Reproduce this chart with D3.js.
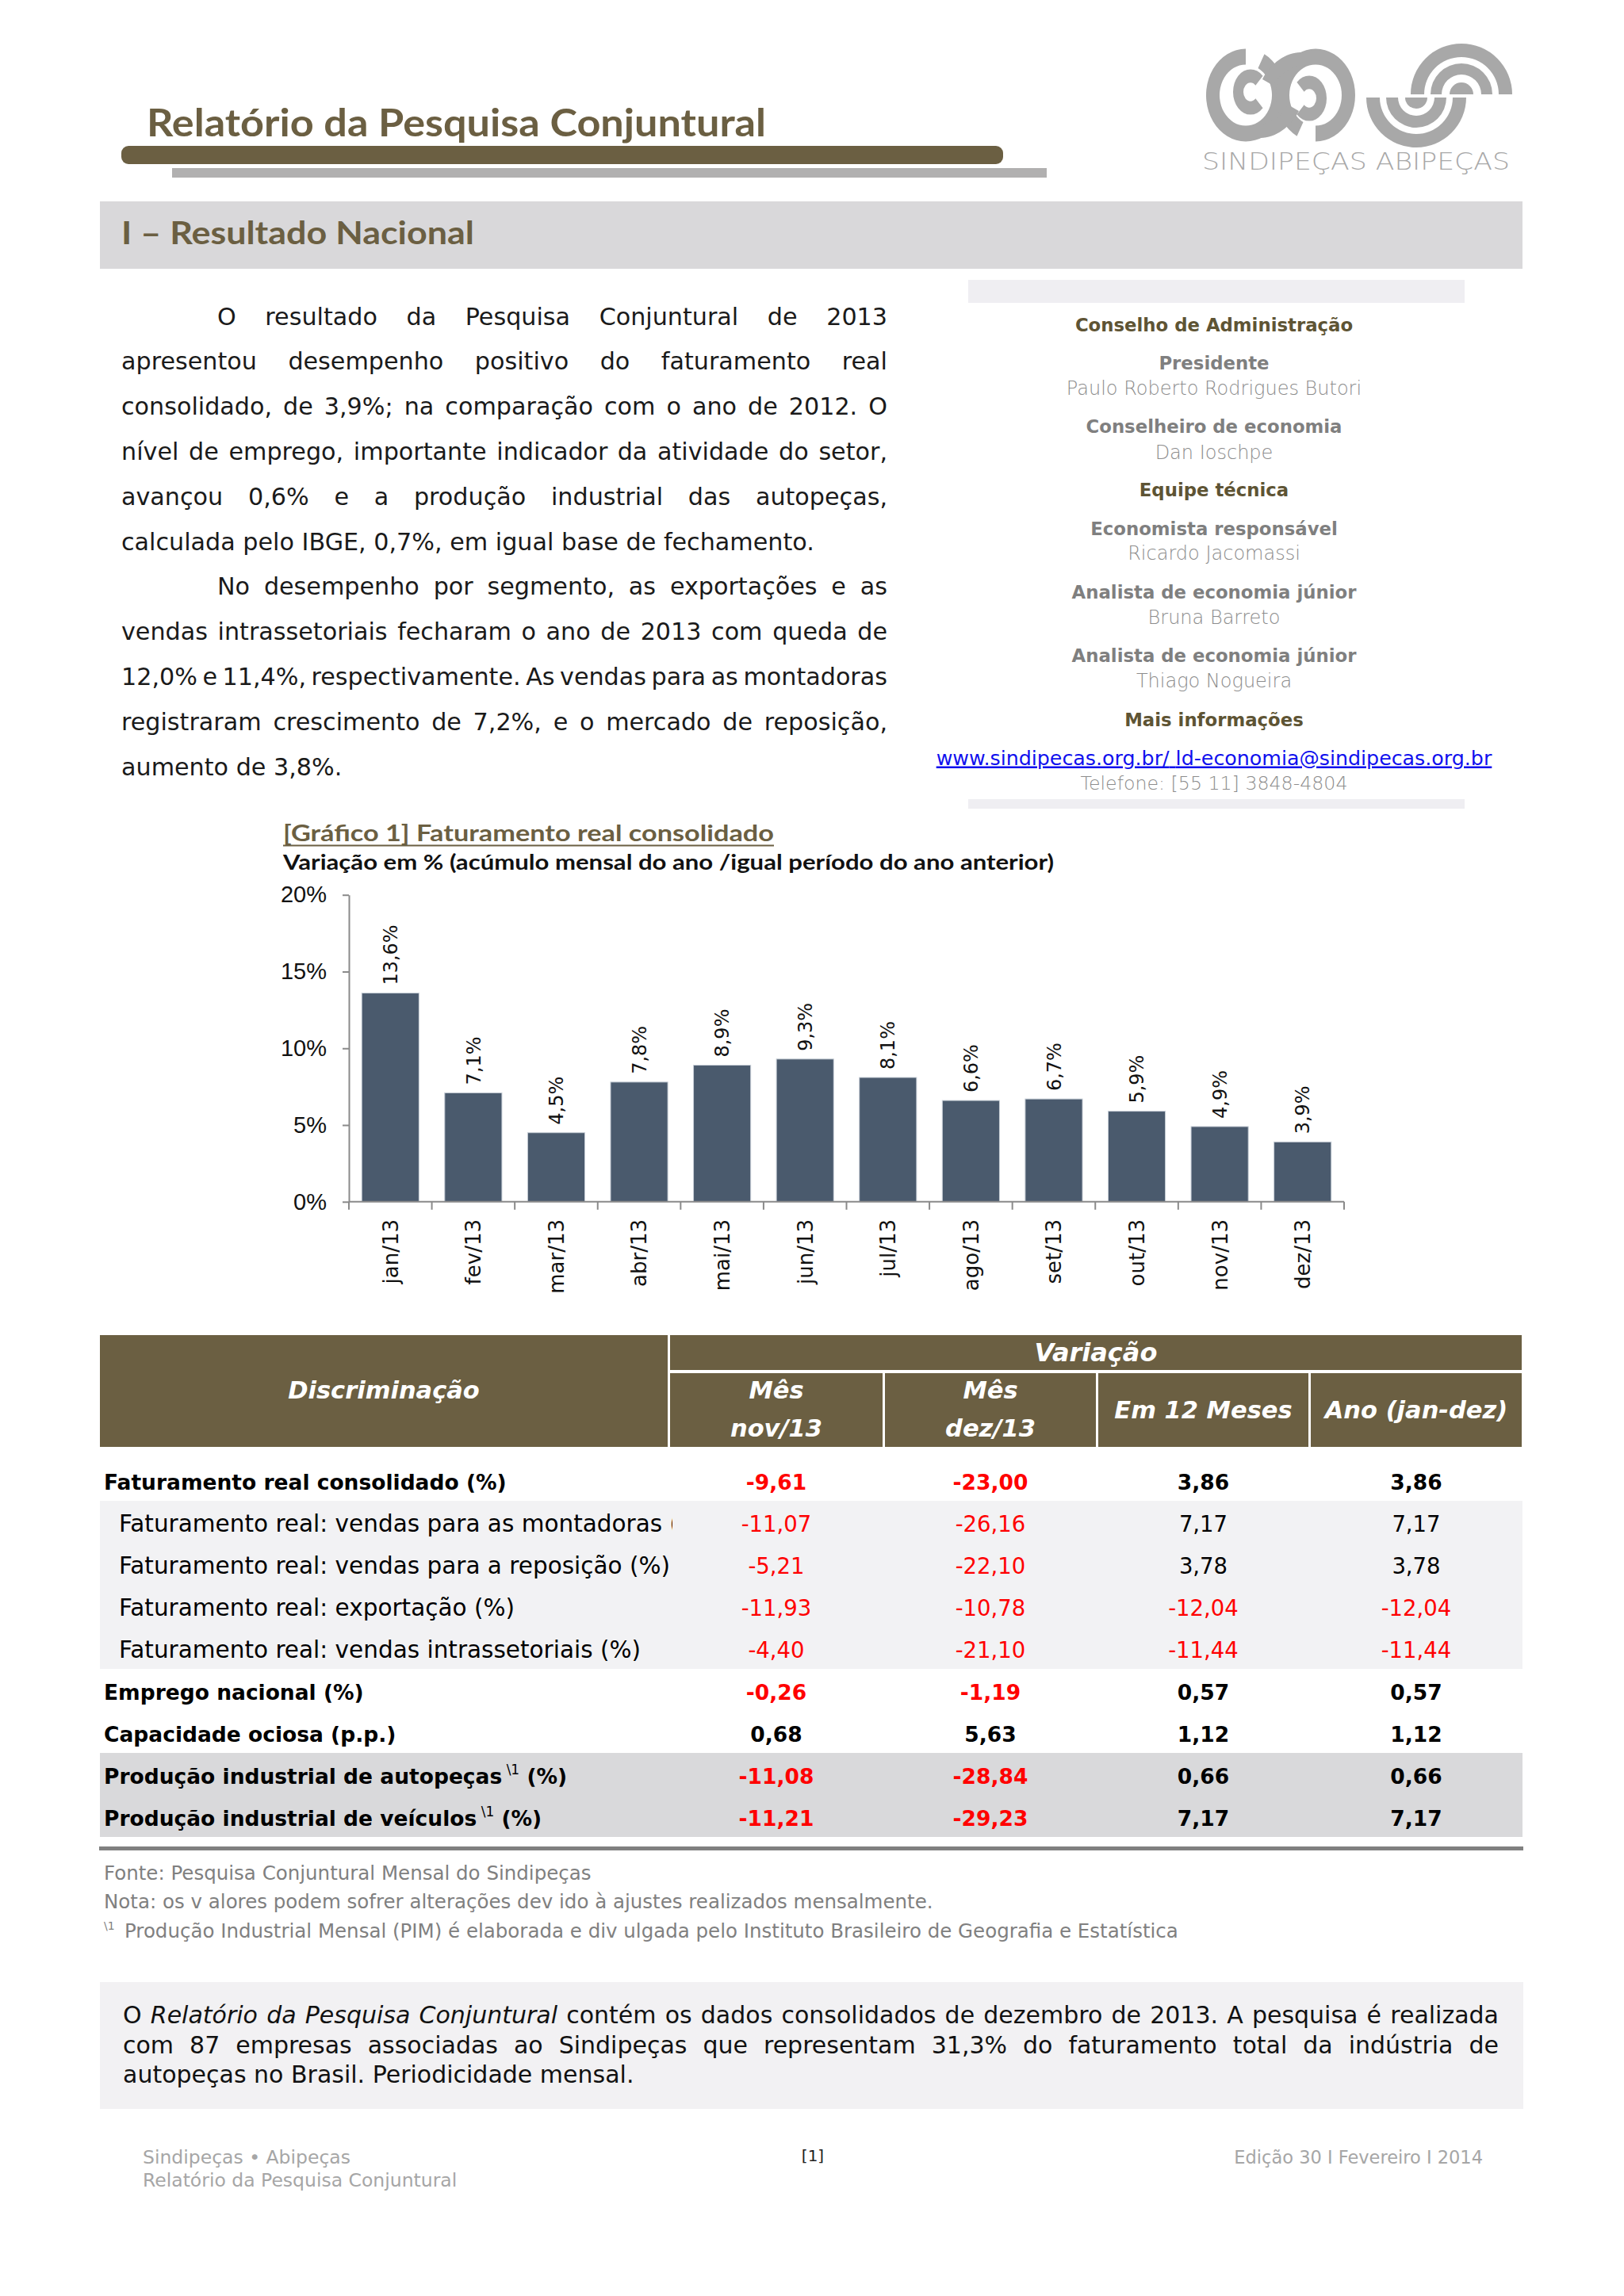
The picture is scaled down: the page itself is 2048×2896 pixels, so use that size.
<!DOCTYPE html>
<html><head><meta charset="utf-8">
<script src="https://cdn.jsdelivr.net/npm/d3@7"></script>
<style>
html,body{margin:0;padding:0;background:#fff;}
svg{display:block;}
</style></head><body>
<svg id="page" width="2048" height="2896"></svg>
<script>
// ---------------- DATA ----------------
const headerTitle = "Relatório da Pesquisa Conjuntural";
const sectionTitle = "I – Resultado Nacional";
const logoWords = "SINDIPEÇAS ABIPEÇAS";

const paragraph1Lines = [
  "O resultado da Pesquisa Conjuntural de 2013",
  "apresentou desempenho positivo do faturamento real",
  "consolidado, de 3,9%; na comparação com o ano de 2012. O",
  "nível de emprego, importante indicador da atividade do setor,",
  "avançou 0,6% e a produção industrial das autopeças,",
  "calculada pelo IBGE, 0,7%, em igual base de fechamento."
];
const paragraph2Lines = [
  "No desempenho por segmento, as exportações e as",
  "vendas intrassetoriais fecharam o ano de 2013 com queda de",
  "12,0% e 11,4%, respectivamente. As vendas para as montadoras",
  "registraram crescimento de 7,2%, e o mercado de reposição,",
  "aumento de 3,8%."
];

const infoItems = [
  {kind: "head", text: "Conselho de Administração"},
  {kind: "role", text: "Presidente"},
  {kind: "name", text: "Paulo Roberto Rodrigues Butori"},
  {kind: "role", text: "Conselheiro de economia"},
  {kind: "name", text: "Dan Ioschpe"},
  {kind: "head", text: "Equipe técnica"},
  {kind: "role", text: "Economista responsável"},
  {kind: "name", text: "Ricardo Jacomassi"},
  {kind: "role", text: "Analista de economia júnior"},
  {kind: "name", text: "Bruna Barreto"},
  {kind: "role", text: "Analista de economia júnior"},
  {kind: "name", text: "Thiago Nogueira"},
  {kind: "head", text: "Mais informações"}
];
const infoLinks = ["www.sindipecas.org.br/", "ld-economia@sindipecas.org.br"];
const infoPhone = "Telefone: [55 11] 3848-4804";

const chartTitle = "[Gráfico 1] Faturamento real consolidado";
const chartSubtitle = "Variação em % (acúmulo mensal do ano /igual período do ano anterior)";
const months = ["jan/13","fev/13","mar/13","abr/13","mai/13","jun/13","jul/13","ago/13","set/13","out/13","nov/13","dez/13"];
const faturamento = [13.6, 7.1, 4.5, 7.8, 8.9, 9.3, 8.1, 6.6, 6.7, 5.9, 4.9, 3.9];
const yTickValues = [0, 5, 10, 15, 20];

const tableHeadMain = "Discriminação";
const tableHeadGroup = "Variação";
const tableColumns = [["Mês", "nov/13"], ["Mês", "dez/13"], ["Em 12 Meses"], ["Ano (jan-dez)"]];
const rowLabels = [
  "Faturamento real consolidado (%)",
  "Faturamento real: vendas para as montadoras (%)",
  "Faturamento real: vendas para a reposição (%)",
  "Faturamento real: exportação (%)",
  "Faturamento real: vendas intrassetoriais (%)",
  "Emprego nacional (%)",
  "Capacidade ociosa (p.p.)",
  "Produção industrial de autopeças",
  "Produção industrial de veículos"
];
const rowNoteMark = ["", "", "", "", "", "", "", "\\1", "\\1"];
const rowUnitAfterNote = ["", "", "", "", "", "", "", " (%)", " (%)"];
const rowGroup = ["main", "sub", "sub", "sub", "sub", "main", "main", "ibge", "ibge"];
const valNov13 = [-9.61, -11.07, -5.21, -11.93, -4.40, -0.26, 0.68, -11.08, -11.21];
const valDez13 = [-23.00, -26.16, -22.10, -10.78, -21.10, -1.19, 5.63, -28.84, -29.23];
const val12Meses = [3.86, 7.17, 3.78, -12.04, -11.44, 0.57, 1.12, 0.66, 7.17];
const valAno = [3.86, 7.17, 3.78, -12.04, -11.44, 0.57, 1.12, 0.66, 7.17];

const noteLines = [
  "Fonte: Pesquisa Conjuntural Mensal do Sindipeças",
  "Nota: os v alores podem sofrer alterações dev ido à ajustes realizados mensalmente.",
  "Produção Industrial Mensal (PIM) é elaborada e div ulgada pelo Instituto Brasileiro de Geografia e Estatística"
];
const noteMarks = ["", "", "\\1"];

const boxLines = [
  "O _Relatório da Pesquisa Conjuntural_ contém os dados consolidados de dezembro de 2013. A pesquisa é realizada",
  "com 87 empresas associadas ao Sindipeças que representam 31,3% do faturamento total da indústria de",
  "autopeças no Brasil. Periodicidade mensal."
];
const footerLeft = ["Sindipeças • Abipeças", "Relatório da Pesquisa Conjuntural"];
const footerPage = "[1]";
const footerRight = "Edição 30 I Fevereiro I 2014";

// ---------------- DRAW ----------------
const svg = d3.select("#page");
const OLIVE = "#6b5f42";
const F = "'DejaVu Sans', 'Liberation Sans', sans-serif";
const FL = "Lato, 'Open Sans', sans-serif";

svg.append("rect").attr("width", 2048).attr("height", 2896).attr("fill", "#ffffff");

// Header
svg.append("text").attr("x", 185).attr("y", 172)
  .attr("font-family", FL).attr("font-weight", 700).attr("font-size", 47)
  .attr("fill", OLIVE).attr("textLength", 781).attr("lengthAdjust", "spacingAndGlyphs")
  .text(headerTitle);
svg.append("rect").attr("x", 153).attr("y", 184).attr("width", 1112).attr("height", 23)
  .attr("rx", 9).attr("fill", OLIVE);
svg.append("rect").attr("x", 217).attr("y", 212).attr("width", 1103).attr("height", 12)
  .attr("fill", "#b1b0b0");

// Logo
const logo = svg.append("g");
const LG = "#a8a8a8";
const arcGen = d3.arc();
const deg = a => a * Math.PI / 180;
function ring(cx, cy, r0, r1, a0, a1, sy) {
  logo.append("path").attr("transform", `translate(${cx},${cy}) scale(1,${sy})`)
    .attr("d", arcGen({innerRadius: r0, outerRadius: r1, startAngle: deg(a0), endAngle: deg(a1)}))
    .attr("fill", LG);
}
ring(1571, 120, 33, 50, 28, 360, 1.17);
ring(1659, 120, 33, 50, 208, 540, 1.17);
ring(1577, 116, 9, 22, 135, 405, 1.3);
ring(1651, 124, 9, 22, 315, 585, 1.3);
// S band joining the rings
logo.append("path")
  .attr("d", "M1592,100 C1602,80 1622,66 1640,66 L1640,83 C1628,84 1612,94 1606,108 Z")
  .attr("fill", LG);
logo.append("path")
  .attr("d", "M1638,140 C1628,160 1608,174 1590,174 L1590,157 C1602,156 1618,146 1624,132 Z")
  .attr("fill", LG);
const upper = [-90, 90], lower = [90, 270];
[[47, 64], [25, 39], [0, 15]].forEach(([ri, ro]) => ring(1843, 119, ri, ro, upper[0], upper[1], 1));
[[46, 63], [23, 38], [0, 14]].forEach(([ri, ro]) => ring(1786, 123, ri, ro, lower[0], lower[1], 1));
logo.append("text").attr("x", 1516).attr("y", 214)
  .attr("font-family", F).attr("font-weight", 300).attr("font-size", 31).attr("fill", LG)
  .attr("textLength", 388).attr("lengthAdjust", "spacingAndGlyphs").text(logoWords);

// Section band
svg.append("rect").attr("x", 126).attr("y", 254).attr("width", 1794).attr("height", 85).attr("fill", "#d9d8da");
svg.append("text").attr("x", 153).attr("y", 308)
  .attr("font-family", FL).attr("font-weight", 700).attr("font-size", 41).attr("fill", OLIVE)
  .attr("textLength", 445).attr("lengthAdjust", "spacingAndGlyphs").text(sectionTitle);

// Justified line helper
function layoutLine(parent, text, x0, x1, y, fs, justify, fill, family) {
  let ital = false;
  const words = text.split(" ").filter(s => s.length).map(tk => {
    let w = tk;
    if (w.startsWith("_")) { w = w.slice(1); ital = true; }
    const it = ital;
    if (w.endsWith("_")) { w = w.slice(0, -1); ital = false; }
    return {w, it};
  });
  const t = parent.append("text").attr("y", y).attr("font-family", family || F)
    .attr("font-size", fs).attr("fill", fill);
  const spans = words.map(d => t.append("tspan").attr("font-style", d.it ? "italic" : "normal").text(d.w));
  const widths = spans.map(s => s.node().getComputedTextLength());
  const total = d3.sum(widths);
  const spaceW = fs * 0.318;
  let gap = spaceW, scale = 1;
  if (justify && words.length > 1) {
    gap = (x1 - x0 - total) / (words.length - 1);
    if (gap < fs * 0.2) {
      gap = fs * 0.2;
      scale = (x1 - x0 - gap * (words.length - 1)) / total;
    }
  }
  let x = x0;
  spans.forEach((s, i) => {
    s.attr("x", x);
    if (scale < 1) s.attr("textLength", widths[i] * scale).attr("lengthAdjust", "spacingAndGlyphs");
    x += widths[i] * scale + gap;
  });
}

// Paragraphs
const para = svg.append("g");
const PX0 = 153, PX1 = 1119, PIND = 274, PFS = 30.2, PLH = 56.8;
const allPara = [];
paragraph1Lines.forEach((l, i) => allPara.push({l, first: i === 0, last: i === paragraph1Lines.length - 1}));
paragraph2Lines.forEach((l, i) => allPara.push({l, first: i === 0, last: i === paragraph2Lines.length - 1}));
allPara.forEach((d, i) => {
  layoutLine(para, d.l, d.first ? PIND : PX0, PX1, 409.5 + i * PLH, PFS, !d.last, "#1a1a1a");
});

// Right info box
svg.append("rect").attr("x", 1221).attr("y", 353).attr("width", 626).attr("height", 29).attr("fill", "#efeef2");
svg.append("rect").attr("x", 1221).attr("y", 1008).attr("width", 626).attr("height", 12).attr("fill", "#efeef2");
const infoY = [418, 466, 498, 546, 578.5, 626, 675, 706, 755, 787, 835, 867, 916];
const info = svg.append("g").attr("font-family", F).attr("text-anchor", "middle");
infoItems.forEach((d, i) => {
  const t = info.append("text").attr("x", 1531).attr("y", infoY[i]).text(d.text);
  if (d.kind === "head") t.attr("font-weight", 700).attr("font-size", 22.8).attr("fill", "#5e5434");
  else if (d.kind === "role") t.attr("font-weight", 700).attr("font-size", 22.8).attr("fill", "#7f7f7f");
  else t.attr("font-weight", 300).attr("font-size", 24).attr("fill", "#8c8c8c");
});
const linkT = info.append("text").attr("x", 1531).attr("y", 964.5).attr("font-size", 25.3)
  .attr("fill", "#1010ee").attr("text-decoration", "underline");
linkT.append("tspan").text(infoLinks[0]);
linkT.append("tspan").text(" ").attr("text-decoration", "none");
linkT.append("tspan").text(infoLinks[1]);
info.append("text").attr("x", 1531).attr("y", 996).attr("font-size", 23.7).attr("font-weight", 300)
  .attr("fill", "#8c8c8c").text(infoPhone);

// Chart
const chart = svg.append("g");
chart.append("text").attr("x", 357).attr("y", 1061).attr("font-family", FL).attr("font-weight", 700)
  .attr("font-size", 28).attr("fill", OLIVE).attr("textLength", 619).attr("lengthAdjust", "spacingAndGlyphs")
  .text(chartTitle);
chart.append("line").attr("x1", 357).attr("x2", 976).attr("y1", 1066.5).attr("y2", 1066.5)
  .attr("stroke", OLIVE).attr("stroke-width", 2);
chart.append("text").attr("x", 357).attr("y", 1097).attr("font-family", FL).attr("font-weight", 700)
  .attr("font-size", 26).attr("fill", "#111").attr("textLength", 972).attr("lengthAdjust", "spacingAndGlyphs")
  .text(chartSubtitle);

const x = d3.scaleBand().domain(months).range([440, 1695]).paddingInner(0.31).paddingOuter(0.155);
const y = d3.scaleLinear().domain([0, 20]).range([1515.8, 1128.7]);
const AX = "#8a8a8a";

chart.append("g").selectAll("rect").data(faturamento).join("rect")
  .attr("x", (d, i) => x(months[i])).attr("width", x.bandwidth())
  .attr("y", d => y(d)).attr("height", d => y(0) - y(d))
  .attr("fill", "#4a5a6d").attr("stroke", "#c9d0d8").attr("stroke-width", 1);

const yAxis = chart.append("g").attr("transform", "translate(440,0)")
  .call(d3.axisLeft(y).tickValues(yTickValues).tickFormat(d => d + "%").tickSize(8).tickPadding(20).tickSizeOuter(0));
yAxis.select(".domain").attr("stroke", AX).attr("stroke-width", 2);
yAxis.selectAll(".tick line").attr("stroke", AX).attr("stroke-width", 2);
yAxis.selectAll(".tick text").attr("font-family", "'Liberation Sans Narrow', 'Liberation Sans', sans-serif")
  .attr("font-size", 29).attr("fill", "#111");

chart.append("line").attr("x1", 440).attr("x2", 1695).attr("y1", y(0)).attr("y2", y(0))
  .attr("stroke", AX).attr("stroke-width", 2);
const bounds = d3.range(months.length + 1).map(i => 440 + i * x.step());
chart.append("g").selectAll("line").data(bounds).join("line")
  .attr("x1", d => d).attr("x2", d => d).attr("y1", y(0)).attr("y2", y(0) + 10)
  .attr("stroke", AX).attr("stroke-width", 2);

chart.append("g").selectAll("text").data(months).join("text")
  .attr("transform", d => `translate(${x(d) + x.bandwidth() / 2},1538) rotate(-90)`)
  .attr("text-anchor", "end").attr("dy", "0.36em")
  .attr("font-family", F).attr("font-size", 26).attr("fill", "#111").text(d => d);

chart.append("g").selectAll("text").data(faturamento).join("text")
  .attr("transform", (d, i) => `translate(${x(months[i]) + x.bandwidth() / 2},${y(d) - 10}) rotate(-90)`)
  .attr("text-anchor", "start").attr("dy", "0.36em")
  .attr("font-family", F).attr("font-size", 24).attr("fill", "#111")
  .text(d => d.toFixed(1).replace(".", ",") + "%");

// Table
const table = svg.append("g").attr("font-family", F);
const cols = [[845, 1113], [1116, 1382], [1385, 1650], [1653, 1919]];
table.append("rect").attr("x", 126).attr("y", 1684).attr("width", 716).attr("height", 141).attr("fill", OLIVE);
table.append("rect").attr("x", 845).attr("y", 1684).attr("width", 1074).attr("height", 44).attr("fill", OLIVE);
cols.forEach(c => table.append("rect").attr("x", c[0]).attr("y", 1732).attr("width", c[1] - c[0]).attr("height", 93).attr("fill", OLIVE));
const hdr = table.append("g").attr("fill", "#ffffff").attr("font-weight", 700).attr("font-style", "italic")
  .attr("font-size", 30.5).attr("text-anchor", "middle");
hdr.append("text").attr("x", 484).attr("y", 1764).text(tableHeadMain);
hdr.append("text").attr("x", 1382).attr("y", 1717).attr("font-size", 32).text(tableHeadGroup);
tableColumns.forEach((lines, i) => {
  const cx = (cols[i][0] + cols[i][1]) / 2;
  if (lines.length === 2) {
    hdr.append("text").attr("x", cx).attr("y", 1764).text(lines[0]);
    hdr.append("text").attr("x", cx).attr("y", 1812).text(lines[1]);
  } else {
    hdr.append("text").attr("x", cx).attr("y", 1789).text(lines[0]);
  }
});

const rowY = d3.scalePoint().domain(d3.range(rowLabels.length)).range([1879, 2303]);
const step = rowY.step();
const bgColor = {main: null, sub: "#f2f2f4", ibge: "#d9d9db"};
rowGroup.forEach((g, i) => {
  if (bgColor[g]) table.append("rect").attr("x", 126).attr("y", rowY(i) - 39)
    .attr("width", 1794).attr("height", step).attr("fill", bgColor[g]);
});
svg.append("clipPath").attr("id", "labclip").append("rect").attr("x", 120).attr("y", 1830).attr("width", 728).attr("height", 520);
const labs = table.append("g").attr("clip-path", "url(#labclip)");
rowLabels.forEach((l, i) => {
  const bold = rowGroup[i] !== "sub";
  const t = labs.append("text").attr("x", bold ? 131 : 150).attr("y", rowY(i))
    .attr("font-size", bold ? 26.5 : 29.5).attr("font-weight", bold ? 700 : 400).attr("fill", "#000");
  t.append("tspan").text(l);
  if (rowNoteMark[i]) {
    t.append("tspan").attr("font-size", 17).attr("dy", -12).attr("font-weight", 400).text(" " + rowNoteMark[i]);
    t.append("tspan").attr("dy", 12).text(rowUnitAfterNote[i]);
  }
});
const valueSets = [valNov13, valDez13, val12Meses, valAno];
const fmt = v => (v < 0 ? "-" : "") + Math.abs(v).toFixed(2).replace(".", ",");
valueSets.forEach((vals, c) => {
  const cx = (cols[c][0] + cols[c][1]) / 2;
  vals.forEach((v, i) => {
    const bold = rowGroup[i] !== "sub";
    table.append("text").attr("x", cx).attr("y", rowY(i)).attr("text-anchor", "middle")
      .attr("font-size", bold ? 26.5 : 27.5).attr("font-weight", bold ? 700 : 400)
      .attr("fill", v < 0 ? "#ff0000" : "#000").text(fmt(v));
  });
});
table.append("rect").attr("x", 125).attr("y", 2329).attr("width", 1796).attr("height", 5).attr("fill", "#808080");

// Notes
const notes = svg.append("g").attr("font-family", F).attr("font-size", 24.5).attr("fill", "#808080");
const noteY = [2371, 2407, 2444];
noteLines.forEach((l, i) => {
  if (noteMarks[i]) {
    notes.append("text").attr("x", 131).attr("y", noteY[i] - 10).attr("font-size", 14).text(noteMarks[i]);
    notes.append("text").attr("x", 157).attr("y", noteY[i]).text(l);
  } else {
    notes.append("text").attr("x", 131).attr("y", noteY[i]).text(l);
  }
});

// Bottom box
svg.append("rect").attr("x", 126).attr("y", 2500).attr("width", 1795).attr("height", 160).attr("fill", "#f2f1f3");
const box = svg.append("g");
boxLines.forEach((l, i) => {
  layoutLine(box, l, 155, 1890, 2552 + i * 37.5, 30, i < boxLines.length - 1, "#111");
});

// Footer
const foot = svg.append("g").attr("font-family", F).attr("font-size", 23.5).attr("fill", "#a6a6a6");
foot.append("text").attr("x", 180).attr("y", 2729).text(footerLeft[0]);
foot.append("text").attr("x", 180).attr("y", 2758).text(footerLeft[1]);
foot.append("text").attr("x", 1025).attr("y", 2726).attr("text-anchor", "middle").attr("fill", "#222").attr("font-size", 20).text(footerPage);
foot.append("text").attr("x", 1870).attr("y", 2729).attr("text-anchor", "end").attr("font-size", 22.5).text(footerRight);
</script>
</body></html>
